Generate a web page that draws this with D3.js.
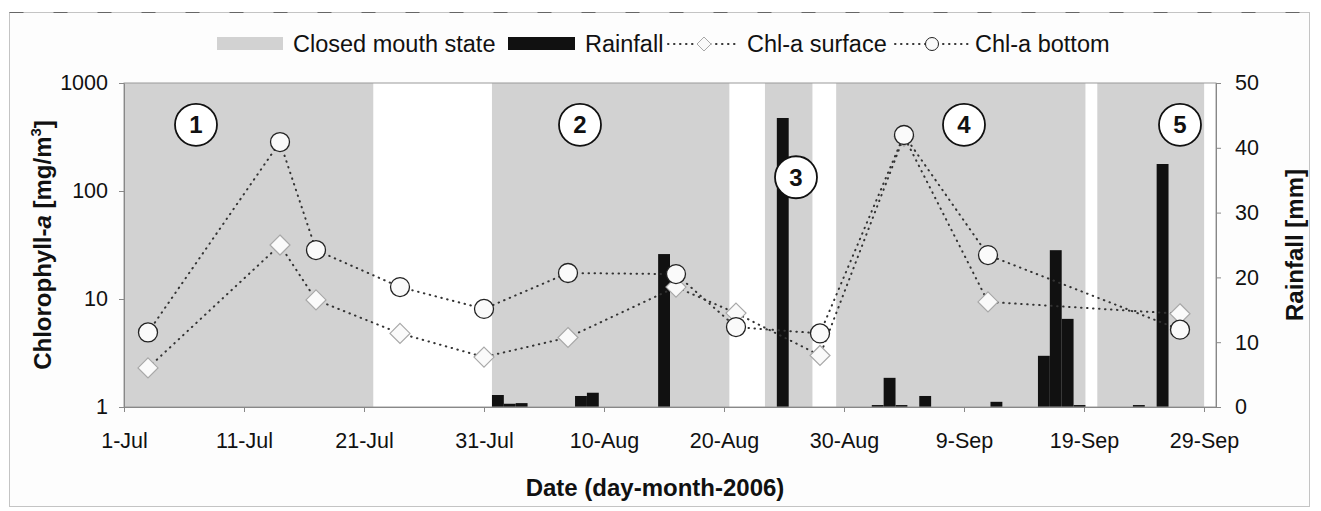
<!DOCTYPE html>
<html>
<head>
<meta charset="utf-8">
<script src="https://cdn.jsdelivr.net/npm/d3@7"></script>
<style>
  body { margin: 0; background: #fff; }
  text { font-family: "Liberation Sans", Arial, sans-serif; fill: #111; }
</style>
</head>
<body>
<svg id="chart" width="1321" height="511"></svg>
<script>
// sampling dates and chlorophyll-a (mg/m3)
const sampleDates = ["2006-07-03", "2006-07-14", "2006-07-17", "2006-07-24", "2006-07-31", "2006-08-07",
  "2006-08-16", "2006-08-21", "2006-08-28", "2006-09-04", "2006-09-11", "2006-09-27"];
const chlSurface = [2.3, 31.6, 9.8, 4.8, 2.9, 4.4, 12.9, 7.4, 3.0, 320, 9.4, 7.3];
const chlBottom = [4.9, 284, 28.4, 12.9, 8.1, 17.4, 17.0, 5.5, 4.8, 330, 25.5, 5.2];

// daily rainfall (mm), only the rainy days
const rainDates = ["2006-08-01", "2006-08-02", "2006-08-03", "2006-08-08", "2006-08-09", "2006-08-15",
  "2006-08-25", "2006-09-02", "2006-09-03", "2006-09-04", "2006-09-06", "2006-09-12",
  "2006-09-16", "2006-09-17", "2006-09-18", "2006-09-19", "2006-09-24", "2006-09-26"];
const rainMm = [1.85, 0.5, 0.6, 1.7, 2.2, 23.6, 44.6, 0.3, 4.5, 0.3, 1.7, 0.8, 7.9, 24.2, 13.6, 0.3, 0.3, 37.5];

// closed mouth periods (first day, last day)
const closedStart = ["2006-07-01", "2006-08-01", "2006-08-24", "2006-08-30", "2006-09-21"];
const closedEnd = ["2006-07-21", "2006-08-20", "2006-08-27", "2006-09-19", "2006-09-29"];

// circled period numbers
const periodLabels = ["1", "2", "3", "4", "5"];
const periodDates = ["2006-07-07", "2006-08-08", "2006-08-26", "2006-09-09", "2006-09-27"];
const periodChl = [410, 410, 134, 410, 410];

const xTickDates = ["2006-07-01", "2006-07-11", "2006-07-21", "2006-07-31", "2006-08-10",
  "2006-08-20", "2006-08-30", "2006-09-09", "2006-09-19", "2006-09-29"];
const chlTicks = [1, 10, 100, 1000];
const rainTicks = [0, 10, 20, 30, 40, 50];

const parse = d3.utcParse("%Y-%m-%d");
const fmt = d3.utcFormat("%-d-%b");

const margin = { top: 83, right: 105, bottom: 104, left: 124 };
const width = 1321, height = 511;
const x0 = margin.left, x1 = width - margin.right, yTop = margin.top, yBot = height - margin.bottom;

const startDay = parse("2006-07-01"), endDay = parse("2006-09-30");
const allDays = d3.utcDay.range(startDay, d3.utcDay.offset(endDay, 1));

const x = d3.scaleUtc().domain([startDay, endDay]).range([x0, x1]);
const band = d3.scaleBand().domain(allDays.map(d => +d)).range([x0, x1]).padding(0);
const y = d3.scaleLog().domain([1, 1000]).range([yBot, yTop]);
const yR = d3.scaleLinear().domain([0, 50]).range([yBot, yTop]);

const svg = d3.select("#chart");
const gray = "#d2d2d2";

// outer frame
svg.append("rect").attr("x", 9.5).attr("y", 12.5).attr("width", 1300).attr("height", 494)
  .attr("fill", "#fdfdfd").attr("stroke", "#c4c4c4");
svg.append("line").attr("x1", 9.5).attr("x2", 1309.5).attr("y1", 12.5).attr("y2", 12.5)
  .attr("stroke", "#666").attr("stroke-dasharray", "14,30");

svg.append("rect").attr("x", x0).attr("y", yTop).attr("width", x1 - x0).attr("height", yBot - yTop)
  .attr("fill", "#fff");

// closed mouth state
svg.append("g").selectAll("rect")
  .data(closedStart.map((s, i) => [parse(s), parse(closedEnd[i])]))
  .join("rect")
  .attr("x", d => band(+d[0]))
  .attr("width", d => band(+d[1]) + band.bandwidth() - band(+d[0]))
  .attr("y", yTop)
  .attr("height", yBot - yTop)
  .attr("fill", gray);

// rainfall
svg.append("g").selectAll("rect")
  .data(rainDates.map((d, i) => ({ date: parse(d), v: rainMm[i] })))
  .join("rect")
  .attr("x", d => band(+d.date))
  .attr("width", band.bandwidth())
  .attr("y", d => yR(d.v))
  .attr("height", d => yR(0) - yR(d.v))
  .attr("fill", "#111");

// plot border
svg.append("rect").attr("x", x0).attr("y", yTop).attr("width", x1 - x0).attr("height", yBot - yTop)
  .attr("fill", "none").attr("stroke", "#9a9a9a");

// axes
const styleAxis = g => {
  g.select(".domain").attr("stroke", "#888");
  g.selectAll(".tick line").attr("stroke", "#888");
  g.selectAll(".tick text").attr("font-size", 21.5).attr("fill", "#111")
    .attr("font-family", "'Liberation Sans', Arial, sans-serif");
};

svg.append("g")
  .attr("transform", `translate(0,${yBot})`)
  .call(d3.axisBottom(x).tickValues(xTickDates.map(parse)).tickFormat(fmt).tickSizeInner(5).tickSizeOuter(0).tickPadding(21))
  .call(styleAxis);

svg.append("g")
  .attr("transform", `translate(${x0},0)`)
  .call(d3.axisLeft(y).tickValues(chlTicks).tickFormat(d3.format("d")).tickSizeInner(5).tickSizeOuter(0).tickPadding(11))
  .call(styleAxis);

svg.append("g")
  .attr("transform", `translate(${x1},0)`)
  .call(d3.axisRight(yR).tickValues(rainTicks).tickSizeInner(5).tickSizeOuter(0).tickPadding(14))
  .call(styleAxis);

// chlorophyll lines
const line = d3.line().x(d => x(d.date)).y(d => y(d.v));
const series = [
  { name: "surface", values: sampleDates.map((d, i) => ({ date: parse(d), v: chlSurface[i] })) },
  { name: "bottom", values: sampleDates.map((d, i) => ({ date: parse(d), v: chlBottom[i] })) }
];

svg.append("g").selectAll("path")
  .data(series)
  .join("path")
  .attr("d", d => line(d.values))
  .attr("fill", "none")
  .attr("stroke", "#333")
  .attr("stroke-width", 2)
  .attr("stroke-linecap", "round")
  .attr("stroke-dasharray", "0.5,5.5");

const diamond = (cx, cy, r) => `M${cx},${cy - r}L${cx + r},${cy}L${cx},${cy + r}L${cx - r},${cy}Z`;

svg.append("g").selectAll("path")
  .data(series[0].values)
  .join("path")
  .attr("d", d => diamond(x(d.date), y(d.v), 10))
  .attr("fill", "#fafafa")
  .attr("stroke", "#a8a8a8")
  .attr("stroke-width", 1.2);

svg.append("g").selectAll("circle")
  .data(series[1].values)
  .join("circle")
  .attr("cx", d => x(d.date))
  .attr("cy", d => y(d.v))
  .attr("r", 9.5)
  .attr("fill", "#fafafa")
  .attr("stroke", "#222")
  .attr("stroke-width", 1.3);

// circled period numbers
const lab = svg.append("g").selectAll("g")
  .data(periodLabels.map((t, i) => ({ t, date: parse(periodDates[i]), v: periodChl[i] })))
  .join("g")
  .attr("transform", d => `translate(${x(d.date)},${y(d.v)})`);
lab.append("circle").attr("r", 21).attr("fill", "#fff").attr("stroke", "#111").attr("stroke-width", 1.8);
lab.append("text").text(d => d.t)
  .attr("text-anchor", "middle").attr("dy", "0.36em")
  .attr("font-size", 24).attr("font-weight", "bold");

// axis titles
svg.append("text")
  .attr("transform", `translate(43,${(yTop + yBot) / 2}) rotate(-90)`)
  .attr("text-anchor", "middle").attr("dy", "0.35em")
  .attr("font-size", 24).attr("font-weight", "bold")
  .call(t => {
    t.append("tspan").text("Chlorophyll-");
    t.append("tspan").text("a").attr("font-style", "italic");
    t.append("tspan").text(" [mg/m");
    t.append("tspan").text("3").attr("font-size", 15).attr("dy", "-0.7em");
    t.append("tspan").text("]").attr("dy", "0.45em");
  });

svg.append("text")
  .attr("transform", `translate(1295,${(yTop + yBot) / 2}) rotate(-90)`)
  .attr("text-anchor", "middle").attr("dy", "0.35em")
  .attr("font-size", 24).attr("font-weight", "bold")
  .text("Rainfall [mm]");

svg.append("text")
  .attr("x", 655).attr("y", 488)
  .attr("text-anchor", "middle").attr("dy", "0.35em")
  .attr("font-size", 24).attr("font-weight", "bold")
  .text("Date (day-month-2006)");

// legend
const legY = 44;
const leg = svg.append("g").attr("font-size", 23.5);
leg.append("rect").attr("x", 217).attr("y", legY - 7).attr("width", 66).attr("height", 13).attr("fill", gray);
leg.append("text").attr("x", 293).attr("y", legY).attr("dy", "0.35em").text("Closed mouth state");
leg.append("rect").attr("x", 508).attr("y", legY - 7).attr("width", 67).attr("height", 13).attr("fill", "#111");
leg.append("text").attr("x", 585).attr("y", legY).attr("dy", "0.35em").text("Rainfall");

const legLine = (xa, xb) => leg.append("line").attr("x1", xa).attr("x2", xb).attr("y1", legY).attr("y2", legY)
  .attr("stroke", "#333").attr("stroke-width", 2).attr("stroke-linecap", "round").attr("stroke-dasharray", "0.5,5.5");
legLine(668, 740);
leg.append("path").attr("d", diamond(704, legY, 7)).attr("fill", "#fafafa").attr("stroke", "#a8a8a8");
leg.append("text").attr("x", 747).attr("y", legY).attr("dy", "0.35em").text("Chl-a surface");
legLine(895, 969);
leg.append("circle").attr("cx", 932).attr("cy", legY).attr("r", 6.5).attr("fill", "#fafafa").attr("stroke", "#222");
leg.append("text").attr("x", 975).attr("y", legY).attr("dy", "0.35em").text("Chl-a bottom");
</script>
</body>
</html>
